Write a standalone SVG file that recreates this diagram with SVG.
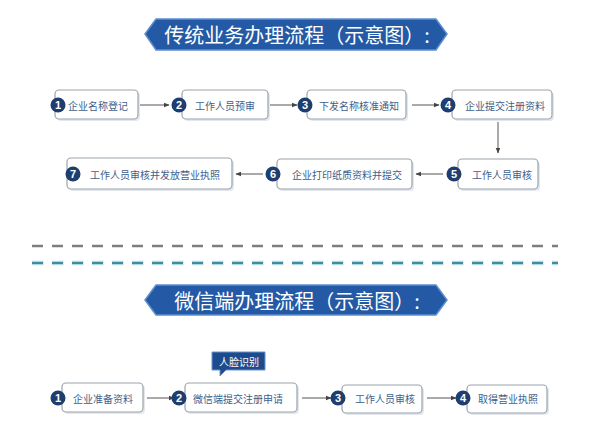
<svg xmlns="http://www.w3.org/2000/svg" width="592" height="432" viewBox="0 0 592 432">
<style>
.banner{fill:#2459a6;stroke:#5d8fd0;stroke-width:1.5}
.bt{font-family:"Noto Sans CJK SC","Noto Sans",sans-serif;font-size:20px;fill:#ffffff;text-anchor:middle;dominant-baseline:central}
.box{fill:#ffffff;stroke:#9aa3ad;stroke-width:1.2}
.shadow{fill:#e4e8ee}
.t{font-family:"Noto Sans CJK SC","Noto Sans",sans-serif;font-size:10px;fill:#3e5f8c;dominant-baseline:central}
.c{fill:#1d3e6e}
.n{font-family:"Liberation Sans",Arial,sans-serif;font-size:11px;font-weight:bold;fill:#ffffff;text-anchor:middle;dominant-baseline:central}
.ar{stroke:#555;stroke-width:1;fill:none;marker-end:url(#ah)}
</style>
<defs>
<marker id="ah" viewBox="0 0 10 10" refX="9" refY="5" markerWidth="6" markerHeight="6" orient="auto" markerUnits="userSpaceOnUse">
<path d="M0,1 L10,5 L0,9 z" fill="#444"/>
</marker>
</defs>
<rect width="592" height="432" fill="#ffffff"/>

<g id="banner1">
<polygon class="banner" points="145,34 156,19 436,19 447,34 436,50 156,50"/>
<text class="bt" x="297" y="34">传统业务办理流程（示意图）:</text>
</g>

<g id="connectors">
<line class="ar" x1="140" y1="105" x2="169" y2="105"/>
<line class="ar" x1="270" y1="105" x2="297" y2="105"/>
<line class="ar" x1="412" y1="105" x2="439" y2="105"/>
<line class="ar" x1="498" y1="122" x2="498" y2="153"/>
<line class="ar" x1="443" y1="174" x2="416" y2="174"/>
<line class="ar" x1="263" y1="174" x2="236" y2="174"/>
<line class="ar" x1="147" y1="398" x2="174" y2="398"/>
<line class="ar" x1="302" y1="398" x2="331" y2="398"/>
<line class="ar" x1="427" y1="398" x2="456" y2="398"/>
<line x1="32" y1="246" x2="558" y2="246" stroke="#7b7f84" stroke-width="2.5" stroke-dasharray="11,9"/>
<line x1="32" y1="263" x2="558" y2="263" stroke="#dcf0f8" stroke-width="5" stroke-dasharray="12,8"/>
<line x1="32" y1="263" x2="558" y2="263" stroke="#3e8ea0" stroke-width="2.5" stroke-dasharray="11,9"/>
</g>

<g id="n1">
<rect class="shadow" x="57" y="92" width="83" height="29" rx="4"/>
<rect class="box" x="55" y="90" width="83" height="29" rx="4"/>
<circle class="c" cx="58" cy="105" r="7.5"/><text class="n" x="58" y="105">1</text>
<text class="t" x="68" y="105">企业名称登记</text>
</g>
<g id="n2">
<rect class="shadow" x="184" y="92" width="86" height="29" rx="4"/>
<rect class="box" x="182" y="90" width="86" height="29" rx="4"/>
<circle class="c" cx="179" cy="105" r="7.5"/><text class="n" x="179" y="105">2</text>
<text class="t" x="195" y="105">工作人员预审</text>
</g>
<g id="n3">
<rect class="shadow" x="309" y="92" width="99" height="29" rx="4"/>
<rect class="box" x="307" y="90" width="99" height="29" rx="4"/>
<circle class="c" cx="305" cy="105" r="7.5"/><text class="n" x="305" y="105">3</text>
<text class="t" x="319" y="105">下发名称核准通知</text>
</g>
<g id="n4">
<rect class="shadow" x="454" y="92" width="100" height="29" rx="4"/>
<rect class="box" x="452" y="90" width="100" height="29" rx="4"/>
<circle class="c" cx="448" cy="105" r="7.5"/><text class="n" x="448" y="105">4</text>
<text class="t" x="465" y="105">企业提交注册资料</text>
</g>
<g id="n5">
<rect class="shadow" x="460" y="161" width="80" height="30" rx="4"/>
<rect class="box" x="458" y="159" width="80" height="30" rx="4"/>
<circle class="c" cx="454" cy="174" r="7.5"/><text class="n" x="454" y="174">5</text>
<text class="t" x="472" y="174">工作人员审核</text>
</g>
<g id="n6">
<rect class="shadow" x="279" y="161" width="135" height="30" rx="4"/>
<rect class="box" x="277" y="159" width="135" height="30" rx="4"/>
<circle class="c" cx="273" cy="174" r="7.5"/><text class="n" x="273" y="174">6</text>
<text class="t" x="292" y="174">企业打印纸质资料并提交</text>
</g>
<g id="n7">
<rect class="shadow" x="69" y="160" width="165" height="31" rx="4"/>
<rect class="box" x="67" y="158" width="165" height="31" rx="4"/>
<circle class="c" cx="73" cy="174" r="7.5"/><text class="n" x="73" y="174">7</text>
<text class="t" x="90" y="174">工作人员审核并发放营业执照</text>
</g>

<g id="banner2">
<polygon class="banner" points="145,300 156,285 436,285 447,300 436,315 156,315"/>
<text class="bt" x="297" y="300">微信端办理流程（示意图）:</text>
</g>

<g id="bubble">
<path d="M212,352 H265 V370 H226 L220,376 L220,370 H212 Z" fill="#1d4b8c" stroke="#6a94cc" stroke-width="1"/>
<text class="t" x="219" y="361" style="fill:#ffffff">人脸识别</text>
</g>

<g id="m1">
<rect class="shadow" x="64" y="385" width="81" height="29" rx="4"/>
<rect class="box" x="62" y="383" width="81" height="29" rx="4"/>
<circle class="c" cx="58" cy="398" r="7.5"/><text class="n" x="58" y="398">1</text>
<text class="t" x="73" y="398">企业准备资料</text>
</g>
<g id="m2">
<rect class="shadow" x="187" y="385" width="112" height="29" rx="4"/>
<rect class="box" x="185" y="383" width="112" height="29" rx="4"/>
<circle class="c" cx="179" cy="398" r="7.5"/><text class="n" x="179" y="398">2</text>
<text class="t" x="193" y="398">微信端提交注册申请</text>
</g>
<g id="m3">
<rect class="shadow" x="344" y="387" width="80" height="28" rx="4"/>
<rect class="box" x="342" y="385" width="80" height="28" rx="4"/>
<circle class="c" cx="338" cy="398" r="7.5"/><text class="n" x="338" y="398">3</text>
<text class="t" x="355" y="398">工作人员审核</text>
</g>
<g id="m4">
<rect class="shadow" x="469" y="387" width="80" height="28" rx="4"/>
<rect class="box" x="467" y="385" width="80" height="28" rx="4"/>
<circle class="c" cx="463" cy="398" r="7.5"/><text class="n" x="463" y="398">4</text>
<text class="t" x="478" y="398">取得营业执照</text>
</g>
</svg>
